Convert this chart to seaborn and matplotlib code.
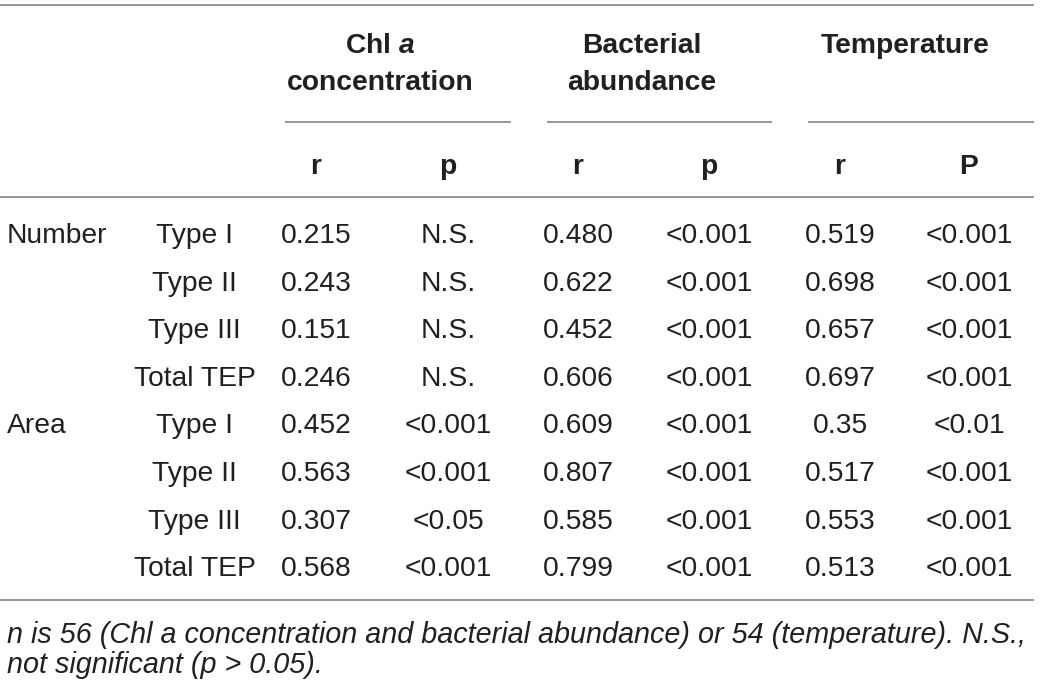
import matplotlib
matplotlib.use("Agg")
import matplotlib.pyplot as plt
import seaborn as sns

# ---------------- data ----------------
groups = ["Number", "", "", "", "Area", "", "", ""]
types = ["Type I", "Type II", "Type III", "Total TEP",
         "Type I", "Type II", "Type III", "Total TEP"]
chl_r = ["0.215", "0.243", "0.151", "0.246", "0.452", "0.563", "0.307", "0.568"]
chl_p = ["N.S.", "N.S.", "N.S.", "N.S.", "<0.001", "<0.001", "<0.05", "<0.001"]
bact_r = ["0.480", "0.622", "0.452", "0.606", "0.609", "0.807", "0.585", "0.799"]
bact_p = ["<0.001"] * 8
temp_r = ["0.519", "0.698", "0.657", "0.697", "0.35", "0.517", "0.553", "0.513"]
temp_p = ["<0.001", "<0.001", "<0.001", "<0.001", "<0.01", "<0.001", "<0.001", "<0.001"]
sub_headers = ["r", "p", "r", "p", "r", "P"]
footnote = ["n is 56 (Chl a concentration and bacterial abundance) or 54 (temperature). N.S.,",
            "not significant (p > 0.05)."]

# ---------------- style ----------------
sns.set_theme(style="white")
plt.rcParams["font.family"] = ["Liberation Sans", "DejaVu Sans"]
plt.rcParams["mathtext.fontset"] = "custom"
plt.rcParams["mathtext.it"] = "Liberation Sans:bold:italic"
plt.rcParams["mathtext.rm"] = "Liberation Sans:bold"

TXT = "#231f20"
RULE = "#8f8f8f"
FS = 20.3

fig = plt.figure(figsize=(10.4, 6.86), dpi=100)
ax = fig.add_axes([0, 0, 1, 1])
ax.set_xlim(0, 1040)
ax.set_ylim(686, 0)
ax.axis("off")

# rules
ax.hlines([5, 197, 600], 0, 1034, color=RULE, lw=1.3)
for x0, x1 in [(285, 511), (547, 772), (808, 1034)]:
    ax.hlines(122, x0, x1, color=RULE, lw=1.3)

# headers
hdr = dict(ha="center", va="baseline", fontsize=FS, fontweight="bold", color=TXT)
ax.text(380, 53, r"Chl $a$", **hdr)
ax.text(380, 90, "concentration", **hdr)
ax.text(642, 53, "Bacterial", **hdr)
ax.text(642, 90, "abundance", **hdr)
ax.text(905, 53, "Temperature", **hdr)

col_x = [316, 448, 578, 709, 840, 969]
for x, s in zip(col_x, sub_headers):
    ax.text(x, 174, s, **hdr)

# body
body = dict(va="baseline", fontsize=FS, color=TXT)
cols = [chl_r, chl_p, bact_r, bact_p, temp_r, temp_p]
for i in range(len(types)):
    y = 243 + 47.6 * i
    if groups[i]:
        ax.text(7, y, groups[i], ha="left", **body)
    ax.text(194.5, y, types[i], ha="center", **body)
    for x, col in zip(col_x, cols):
        ax.text(x, y, col[i], ha="center", **body)

# footnote
t1 = ax.text(7, 643, footnote[0], ha="left", va="baseline", fontsize=FS,
             style="italic", color=TXT)
fig.canvas.draw()
w = t1.get_window_extent().width
scale = 1021.0 / w
fs_note = FS * scale
t1.set_fontsize(fs_note)
ax.text(7, 673, footnote[1], ha="left", va="baseline", fontsize=fs_note,
        style="italic", color=TXT)

fig.savefig("out.png", dpi=100)
